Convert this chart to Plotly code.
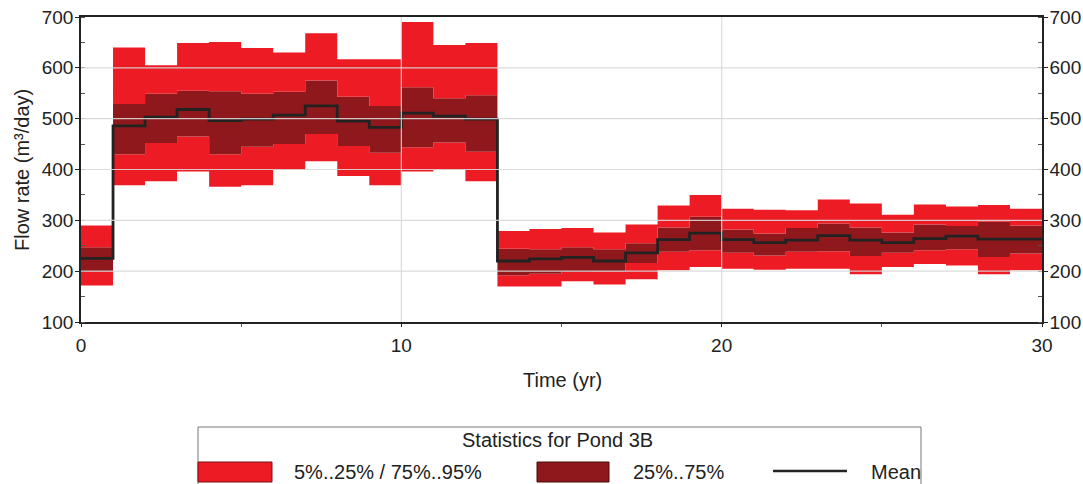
import plotly.graph_objects as go

# Yearly flow-rate statistics for Pond 3B (m³/day), one value per year 0..29
years = list(range(31))
p05 = [172, 369, 377, 396, 366, 369, 399, 416, 387, 369, 396, 399, 377,
       170, 170, 180, 174, 184, 202, 208, 205, 203, 205, 205, 194, 208, 214, 211, 194, 202]
p25 = [200, 430, 452, 465, 430, 445, 450, 470, 446, 433, 444, 453, 435,
       192, 195, 199, 200, 216, 238, 241, 236, 231, 238, 239, 230, 236, 241, 243, 228, 235]
mean = [225, 486, 503, 518, 496, 499, 507, 525, 495, 483, 511, 505, 499,
        220, 224, 227, 220, 236, 262, 275, 262, 256, 261, 270, 261, 256, 264, 269, 263, 263]
p75 = [247, 529, 549, 555, 554, 549, 553, 575, 543, 525, 562, 540, 546,
       244, 243, 247, 243, 255, 286, 307, 282, 274, 285, 294, 286, 276, 292, 289, 297, 290]
p95 = [290, 640, 605, 649, 651, 639, 630, 668, 617, 617, 690, 645, 649,
       279, 283, 285, 276, 292, 329, 350, 323, 321, 320, 341, 333, 311, 331, 327, 330, 323]

y_ticks = [100, 200, 300, 400, 500, 600, 700]
x_ticks = [0, 10, 20, 30]

RED = "#ED1C24"
DARK = "#8E181C"
INK = "#222222"
FONT = "Liberation Sans, Arial, sans-serif"
FS = 20
TICK_FS = 19


def steps(vals):
    # repeat the final value so the last step reaches the end of year 30
    return vals + [vals[-1]]


fig = go.Figure()
band = dict(mode="lines", line=dict(width=0, shape="hv"), showlegend=False, hoverinfo="skip")
fig.add_trace(go.Scatter(x=years, y=steps(p05), **band))
fig.add_trace(go.Scatter(x=years, y=steps(p25), fill="tonexty", fillcolor=RED, **band))
fig.add_trace(go.Scatter(x=years, y=steps(p75), fill="tonexty", fillcolor=DARK, **band))
fig.add_trace(go.Scatter(x=years, y=steps(p95), fill="tonexty", fillcolor=RED, **band))
fig.add_trace(go.Scatter(x=years, y=steps(mean), mode="lines", showlegend=False,
                         line=dict(color=INK, width=2.8, shape="hv")))
# invisible trace to activate the right-hand axis
fig.add_trace(go.Scatter(x=[0], y=[100], yaxis="y2", mode="markers",
                         marker=dict(opacity=0), showlegend=False, hoverinfo="skip"))

W, H = 1083, 484
L, R, T, B = 81, 1042, 17, 322


def px(xpix):
    return (xpix - L) / (R - L)


def py(ypix):
    return (B - ypix) / (B - T)


shapes = []
# grid drawn on top of the bands
for v in y_ticks[1:-1]:
    shapes.append(dict(type="line", xref="paper", yref="y", x0=0, x1=1, y0=v, y1=v,
                       line=dict(color="rgba(215,215,215,0.9)", width=1.2), layer="above"))
for v in x_ticks[1:-1]:
    shapes.append(dict(type="line", xref="x", yref="paper", x0=v, x1=v, y0=0, y1=1,
                       line=dict(color="rgba(215,215,215,0.9)", width=1.2), layer="above"))

# legend box
shapes.append(dict(type="rect", xref="paper", yref="paper", x0=px(198), x1=px(921),
                   y0=py(500), y1=py(427), line=dict(color="#777777", width=1)))
shapes.append(dict(type="rect", xref="paper", yref="paper", x0=px(198), x1=px(272),
                   y0=py(482), y1=py(462), fillcolor=RED, line=dict(color="#7a1014", width=1)))
shapes.append(dict(type="rect", xref="paper", yref="paper", x0=px(537), x1=px(609),
                   y0=py(482), y1=py(462), fillcolor=DARK, line=dict(color="#4a0a0c", width=1)))
shapes.append(dict(type="line", xref="paper", yref="paper", x0=px(773), x1=px(847),
                   y0=py(471), y1=py(471), line=dict(color=INK, width=2.6)))

txt = dict(xref="paper", yref="paper", showarrow=False, font=dict(family=FONT, size=FS, color=INK))
annotations = [
    dict(text="Statistics for Pond 3B", x=px(557), y=py(440), xanchor="center", yanchor="middle", **txt),
    dict(text="5%..25% / 75%..95%", x=px(292), y=py(472), xanchor="left", yanchor="middle", **txt),
    dict(text="25%..75%", x=px(631), y=py(472), xanchor="left", yanchor="middle", **txt),
    dict(text="Mean", x=px(869), y=py(472), xanchor="left", yanchor="middle", **txt),
    dict(text="Flow rate (m³/day)", x=px(22), y=py(170), xanchor="center", yanchor="middle",
         textangle=-90, **txt),
    dict(text="Time (yr)", x=px(562), y=py(380), xanchor="center", yanchor="middle", **txt),
]

yax = dict(range=[100, 700], tickvals=y_ticks, showgrid=False, zeroline=False, automargin=False,
           showline=True, linecolor=INK, linewidth=1.5, ticks="outside", ticklen=4,
           tickcolor=INK, tickfont=dict(family=FONT, size=TICK_FS, color=INK),
           ticklabelstandoff=-2,
           minor=dict(dtick=50, ticks="inside", ticklen=4, tickcolor="#555555", showgrid=False))

fig.update_layout(
    width=W, height=H,
    margin=dict(l=L, r=W - R, t=T, b=H - B, autoexpand=False),
    paper_bgcolor="white", plot_bgcolor="white",
    showlegend=False,
    xaxis=dict(range=[0, 30], tickvals=x_ticks, showgrid=False, zeroline=False, automargin=False,
               showline=True, mirror=True, linecolor=INK, linewidth=1.5,
               ticks="outside", ticklen=3, tickcolor=INK, ticklabelstandoff=2,
               tickfont=dict(family=FONT, size=TICK_FS, color=INK),
               minor=dict(dtick=5, ticks="outside", ticklen=3, tickcolor="#555555", showgrid=False)),
    yaxis=yax,
    yaxis2=dict(yax, overlaying="y", side="right"),
    shapes=shapes,
    annotations=annotations,
)

fig.write_html("out.html")
